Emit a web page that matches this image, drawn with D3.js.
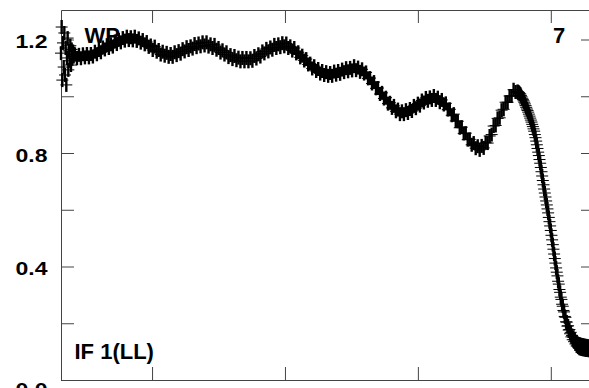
<!DOCTYPE html>
<html><head><meta charset="utf-8">
<script src="https://cdn.jsdelivr.net/npm/d3@7"></script>
<style>body{margin:0;background:#fff;} svg{display:block}</style>
</head><body>
<svg id="c" width="589" height="388"></svg>
<script>
// channels 63..83, step 1
const startChannel = 63;
const ampStart = [1.152,1.244,1.057,1.188,1.103,1.223,1.075,1.170,1.040,1.135,1.205,1.093,1.160,1.125,1.178,1.110,1.165,1.132,1.158,1.140,1.150];
// channels 84..747, step 3
const midChannel = 84;
const ampMid = [
1.147,1.134,1.146,1.134,1.148,1.137,1.149,1.137,1.149,1.140,
1.157,1.148,1.163,1.155,1.172,1.165,1.180,1.170,1.183,1.175,
1.193,1.184,1.199,1.190,1.205,1.196,1.210,1.198,1.208,1.197,
1.210,1.195,1.204,1.189,1.198,1.183,1.191,1.174,1.179,1.163,
1.175,1.157,1.163,1.147,1.157,1.143,1.153,1.139,1.149,1.139,
1.155,1.145,1.159,1.150,1.166,1.158,1.173,1.163,1.176,1.168,
1.184,1.173,1.186,1.176,1.190,1.179,1.190,1.175,1.183,1.170,
1.181,1.164,1.170,1.154,1.162,1.147,1.155,1.138,1.145,1.131,
1.142,1.127,1.136,1.123,1.135,1.123,1.135,1.123,1.134,1.125,
1.142,1.133,1.148,1.140,1.158,1.151,1.167,1.158,1.172,1.164,
1.181,1.170,1.183,1.173,1.187,1.176,1.186,1.170,1.176,1.161,
1.170,1.151,1.155,1.137,1.143,1.126,1.131,1.112,1.115,1.098,
1.106,1.089,1.096,1.080,1.089,1.075,1.085,1.072,1.082,1.072,
1.087,1.076,1.089,1.079,1.094,1.085,1.099,1.088,1.100,1.091,
1.106,1.092,1.101,1.086,1.095,1.080,1.084,1.063,1.064,1.045,
1.050,1.028,1.029,1.008,1.012,0.992,0.995,0.974,0.977,0.959,
0.966,0.947,0.953,0.937,0.947,0.937,0.951,0.941,0.955,0.948,
0.966,0.958,0.974,0.967,0.985,0.978,0.994,0.984,0.996,0.987,
1.001,0.987,0.995,0.979,0.987,0.971,0.975,0.953,0.954,0.933,
0.937,0.913,0.912,0.889,0.891,0.869,0.870,0.847,0.848,0.829,
0.835,0.817,0.824,0.811,0.825,0.818,0.836,0.835,0.860,0.865,
0.895,0.897,0.922,0.924,0.951,0.954,0.979,0.979,1.001,1.001,
1.023,1.015];
// channels 750..865, step 1
const endChannel = 750;
const ampEnd = [
1.017,1.015,1.013,1.010,1.008,1.003,0.998,0.993,0.989,0.984,
0.979,0.973,0.967,0.961,0.955,0.950,0.944,0.937,0.930,0.923,
0.916,0.909,0.901,0.893,0.885,0.877,0.865,0.854,0.842,0.829,
0.816,0.803,0.791,0.777,0.764,0.749,0.734,0.719,0.703,0.688,
0.673,0.659,0.645,0.631,0.617,0.603,0.589,0.573,0.558,0.543,
0.527,0.510,0.494,0.477,0.461,0.444,0.428,0.412,0.395,0.380,
0.367,0.348,0.338,0.319,0.309,0.292,0.284,0.267,0.260,0.245,
0.240,0.224,0.221,0.205,0.204,0.190,0.191,0.176,0.178,0.163,
0.168,0.152,0.157,0.142,0.150,0.135,0.143,0.127,0.135,0.120,
0.130,0.116,0.127,0.112,0.126,0.110,0.124,0.109,0.123,0.108,
0.122,0.107,0.121,0.106,0.120,0.106,0.119,0.105,0.118,0.104,
0.117,0.104,0.116,0.103,0.115,0.103];

const xDomain = [63, 865];
const yDomain = [0, 1.304];
const xTicks = [200, 400, 600, 800];
const yTicks = [0, 0.2, 0.4, 0.6, 0.8, 1.0, 1.2];
const yLabelTicks = [0, 0.4, 0.8, 1.2];
const yLabelText = ["0.0", "0.4", "0.8", "1.2"];
const sourceLabel = "WP";
const panelLabel = "7";
const ifLabel = "IF 1(LL)";

const data = [];
ampStart.forEach((v,i)=>data.push({c:startChannel+i, v}));
ampMid.forEach((v,i)=>data.push({c:midChannel+3*i, v}));
ampEnd.forEach((v,i)=>data.push({c:endChannel+i, v}));

const svg = d3.select("#c");
const L = 61, R = 594, T = 10, B = 380;
const x = d3.scaleLinear().domain(xDomain).range([L, R]);
const y = d3.scaleLinear().domain(yDomain).range([B, T]);
const frameColor = "#444";
const tk = 13;

function style(g){
  g.select(".domain").attr("stroke", frameColor);
  g.selectAll(".tick line").attr("stroke", frameColor);
  g.selectAll(".tick text").remove();
}
svg.append("g").attr("transform",`translate(${L},0)`)
  .call(d3.axisLeft(y).tickValues(yTicks).tickSizeInner(-tk).tickSizeOuter(0).tickFormat("")).call(style);
svg.append("g").attr("transform",`translate(${R},0)`)
  .call(d3.axisRight(y).tickValues(yTicks).tickSizeInner(-tk).tickSizeOuter(0).tickFormat("")).call(style);
svg.append("g").attr("transform",`translate(0,${T})`)
  .call(d3.axisTop(x).tickValues(xTicks).tickSizeInner(-tk).tickSizeOuter(0).tickFormat("")).call(style);
svg.append("g").attr("transform",`translate(0,${B})`)
  .call(d3.axisBottom(x).tickValues(xTicks).tickSizeInner(-tk).tickSizeOuter(0).tickFormat("")).call(style);

const font = "'Liberation Sans', Arial, Helvetica, sans-serif";
svg.append("g").selectAll("text").data(yLabelTicks).join("text")
  .attr("x", 47.5)
  .attr("y", d => d === 0 ? y(d) + 16.3 : y(d) + 8.7)
  .attr("text-anchor","end")
  .attr("font-family", font).attr("font-weight","bold").attr("font-size", 18.5)
  .attr("textLength", 32).attr("lengthAdjust","spacingAndGlyphs")
  .text((d,i)=>yLabelText[i]);

svg.append("text").attr("x",84.5).attr("y",42.5)
  .attr("font-family",font).attr("font-weight","bold").attr("font-size",22).text(sourceLabel);
svg.append("text").attr("x",553).attr("y",42.7)
  .attr("font-family",font).attr("font-weight","bold").attr("font-size",22).text(panelLabel);
svg.append("text").attr("x",74.5).attr("y",359)
  .attr("font-family",font).attr("font-weight","bold").attr("font-size",22).text(ifLabel);

const hx = 6, hy = 7;
const marks = svg.append("g").selectAll("g").data(data).join("g")
  .attr("transform", d => `translate(${x(d.c)},${y(d.v)})`);
marks.append("path").attr("d", `M${-hx},0H${hx}`)
  .attr("fill","none").attr("stroke","#000").attr("stroke-width",1);
marks.append("path").attr("d", `M0,${-hy}V${hy}`)
  .attr("fill","none").attr("stroke","#000").attr("stroke-width",2.4);
</script>
</body></html>
